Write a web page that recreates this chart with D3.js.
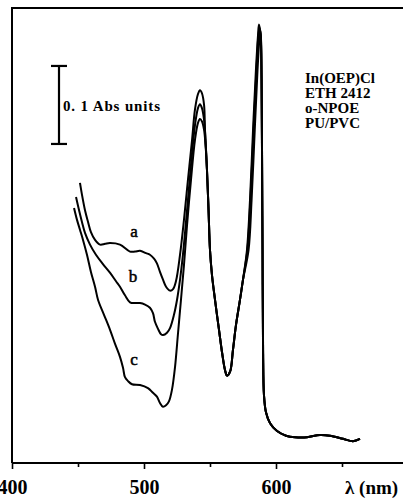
<!DOCTYPE html>
<html>
<head>
<meta charset="utf-8">
<script src="https://cdn.jsdelivr.net/npm/d3@7"></script>
<style>
  html, body { margin: 0; padding: 0; background: #fff; }
  svg { display: block; }
  text { font-family: "Liberation Serif", "Times New Roman", serif; font-weight: bold; fill: #000; }
</style>
</head>
<body>
<svg id="chart" width="403" height="498"></svg>
<script>
// Absorption spectra [wavelength nm, absorbance] for the three membranes a, b, c
const spectrumA = [
  [451.5,0.359],[453.0,0.344],[455.3,0.324],[457.6,0.309],[459.8,0.296],[462.9,0.286],
  [466.7,0.280],[470.5,0.281],[474.2,0.282],[481.8,0.280],[489.4,0.271],[493.2,0.271],
  [497.0,0.272],[501.5,0.269],[504.5,0.267],[507.6,0.262],[509.8,0.256],[512.1,0.245],
  [514.4,0.235],[516.7,0.226],[519.7,0.221],[522.0,0.223],[524.2,0.233],[527.3,0.267],
  [530.3,0.312],[533.3,0.363],[536.4,0.414],[538.6,0.453],[540.9,0.473],[542.4,0.478],
  [543.9,0.474],[545.5,0.459],[546.2,0.427],[547.7,0.376],[548.9,0.324],[550.0,0.273],
  [551.5,0.241],[553.8,0.209],[556.8,0.171],[559.1,0.142],[561.4,0.119],[562.9,0.112],
  [565.2,0.117],[567.4,0.145],[569.7,0.177],[572.7,0.209],[575.0,0.235],[578.0,0.273],
  [580.3,0.337],[582.6,0.427],[584.8,0.504],[586.4,0.549],[587.1,0.562],[588.3,0.549],
  [589.0,0.491],[589.4,0.401],[589.8,0.273],[590.2,0.145],[590.9,0.087],[592.4,0.065],
  [595.5,0.051],[600.8,0.041],[607.6,0.035],[614.4,0.033],[623.5,0.033],[633.3,0.036],
  [640.9,0.035],[650.8,0.031],[658.3,0.028],[663.6,0.031]
];
const spectrumB = [
  [448.5,0.341],[450.8,0.324],[453.0,0.309],[455.3,0.295],[459.1,0.280],[463.6,0.267],
  [468.9,0.255],[474.2,0.244],[478.8,0.233],[481.8,0.226],[485.6,0.215],[489.4,0.206],
  [493.2,0.205],[497.0,0.205],[500.8,0.203],[504.5,0.199],[506.8,0.192],[508.3,0.181],
  [510.6,0.172],[512.9,0.165],[514.4,0.164],[517.4,0.167],[519.7,0.173],[522.7,0.190],
  [525.0,0.209],[527.3,0.235],[529.5,0.267],[532.6,0.324],[535.6,0.382],[538.6,0.433],
  [540.9,0.455],[542.4,0.460],[543.9,0.455],[545.5,0.440],[546.6,0.414],[547.7,0.376],
  [548.9,0.324],[550.0,0.273],[551.5,0.241],[553.8,0.209],[556.8,0.171],[559.1,0.142],
  [561.4,0.119],[562.9,0.112],[565.2,0.117],[567.4,0.145],[569.7,0.177],[572.7,0.209],
  [575.0,0.235],[578.3,0.273],[580.6,0.337],[583.0,0.427],[585.2,0.504],[586.7,0.549],
  [587.5,0.558],[588.4,0.549],[589.0,0.491],[589.4,0.401],[589.8,0.273],[590.2,0.145],
  [590.9,0.087],[592.4,0.065],[595.5,0.051],[600.8,0.041],[607.6,0.035],[614.4,0.033],
  [623.5,0.033],[633.3,0.036],[640.9,0.035],[650.8,0.031],[658.3,0.028],[663.6,0.031]
];
const spectrumC = [
  [447.0,0.327],[449.2,0.312],[451.5,0.299],[453.8,0.286],[456.8,0.267],[459.8,0.245],
  [462.9,0.226],[465.2,0.209],[469.7,0.190],[474.2,0.171],[478.0,0.153],[481.8,0.136],
  [484.1,0.122],[485.6,0.110],[487.9,0.105],[490.9,0.101],[497.0,0.100],[503.0,0.096],
  [506.8,0.090],[509.8,0.085],[512.1,0.077],[514.4,0.072],[516.7,0.074],[518.9,0.079],
  [521.2,0.094],[523.5,0.123],[525.8,0.167],[528.0,0.209],[530.3,0.254],[532.6,0.305],
  [535.6,0.363],[538.6,0.414],[540.9,0.436],[542.4,0.441],[543.9,0.438],[545.5,0.427],
  [546.6,0.408],[547.7,0.376],[548.9,0.324],[550.0,0.273],[551.5,0.241],[553.8,0.209],
  [556.8,0.171],[559.1,0.142],[561.4,0.119],[562.9,0.112],[565.2,0.117],[567.4,0.145],
  [569.7,0.177],[572.7,0.209],[575.0,0.235],[579.2,0.273],[581.5,0.337],[583.9,0.427],
  [586.0,0.504],[587.5,0.545],[588.1,0.554],[588.6,0.545],[589.2,0.491],[589.4,0.401],
  [589.8,0.273],[590.2,0.145],[590.9,0.087],[592.4,0.065],[595.5,0.051],[600.8,0.041],
  [607.6,0.035],[614.4,0.033],[623.5,0.033],[633.3,0.036],[640.9,0.035],[650.8,0.031],
  [658.3,0.028],[663.6,0.031]
];

const curveLabels = ["a", "b", "c"];
const tickValues = [400, 450, 500, 550, 600, 650];
const labelledTicks = [400, 500, 600];
const legendLines = ["In(OEP)Cl", "ETH 2412", "o-NPOE", "PU/PVC"];
const scaleBarValue = 0.1;
const scaleBarText = "0. 1 Abs units";
const xAxisTitle = "λ (nm)";

const svg = d3.select("#chart");

// wavelength → px, absorbance → px
const x = d3.scaleLinear().domain([400, 700]).range([12, 408]);
const y = d3.scaleLinear().domain([0, 0.5833]).range([463, 8]);

// frame: left edge and top edge
svg.append("path")
  .attr("d", `M${x(400)},${y(0)} V${y(0.5833)} H403`)
  .attr("fill", "none").attr("stroke", "#000").attr("stroke-width", 2);

// bottom axis
const axis = d3.axisBottom(x)
  .tickValues(tickValues)
  .tickSize(0)
  .tickFormat(d => labelledTicks.includes(d) ? d : "");
const gx = svg.append("g").attr("transform", `translate(0,${y(0)})`).call(axis);
gx.select(".domain").remove();
gx.append("line").attr("x1", x(400)).attr("x2", 403).attr("y1", 0).attr("y2", 0)
  .attr("stroke", "#000").attr("stroke-width", 2.2);
gx.selectAll(".tick").append("line")
  .attr("y1", 0).attr("y2", d => labelledTicks.includes(d) ? 6 : 4)
  .attr("stroke", "#000").attr("stroke-width", 1.6);
gx.selectAll(".tick text")
  .attr("y", 31).attr("dy", null)
  .style("font-family", "'Liberation Serif', serif")
  .style("font-weight", "bold").style("font-size", "20px").attr("fill", "#000");

svg.append("text")
  .attr("x", 345).attr("y", y(0) + 31)
  .style("font-size", "19px")
  .text(xAxisTitle);

// spectra
const line = d3.line()
  .x(d => x(d[0])).y(d => y(d[1]))
  .curve(d3.curveCatmullRom.alpha(0.5));
[spectrumA, spectrumB, spectrumC].forEach(s => {
  svg.append("path").datum(s)
    .attr("d", line)
    .attr("fill", "none").attr("stroke", "#000")
    .attr("stroke-width", 2).attr("stroke-linejoin", "round");
});

// curve labels
const labelPos = [[134, 237], [133, 282], [134, 365]];
curveLabels.forEach((t, i) => {
  svg.append("text")
    .attr("x", labelPos[i][0]).attr("y", labelPos[i][1])
    .attr("text-anchor", "middle")
    .style("font-size", "17px").style("font-weight", "normal")
    .style("stroke", "#000").style("stroke-width", 0.5)
    .text(t);
});

// absorbance scale bar
const barTop = 0.509;
const barX = 59;
const bar = svg.append("g").attr("stroke", "#000").attr("stroke-width", 2.2);
bar.append("line").attr("x1", barX).attr("x2", barX)
  .attr("y1", y(barTop)).attr("y2", y(barTop - scaleBarValue));
[barTop, barTop - scaleBarValue].forEach(v => {
  bar.append("line").attr("x1", barX - 8).attr("x2", barX + 8)
    .attr("y1", y(v)).attr("y2", y(v));
});
svg.append("text")
  .attr("x", 63).attr("y", 111)
  .style("font-size", "15px")
  .attr("textLength", 97).attr("lengthAdjust", "spacing")
  .text(scaleBarText);

// membrane composition
legendLines.forEach((t, i) => {
  svg.append("text")
    .attr("x", 305).attr("y", 83 + i * 15)
    .style("font-size", "15px")
    .text(t);
});
</script>
</body>
</html>
